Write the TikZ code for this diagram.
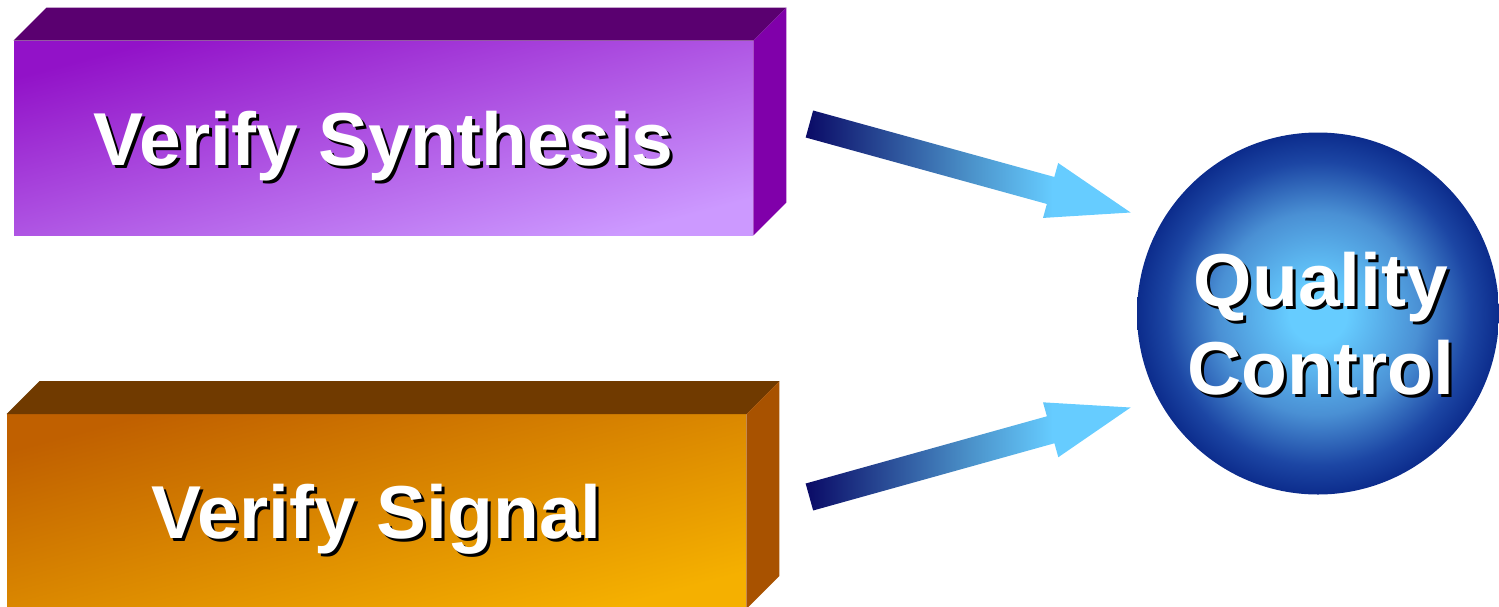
\documentclass[tikz,border=0pt]{standalone}
\usepackage{fontspec}
\setmainfont{Liberation Sans}
\usetikzlibrary{positioning, calc}
\usepackage{xcolor}

\definecolor{synthdark}{HTML}{9212C8}
\definecolor{synthlight}{HTML}{CC99FF}
\definecolor{synthtop}{HTML}{5A0070}
\definecolor{synthside}{HTML}{8000AA}
\definecolor{sigdark}{HTML}{C06000}
\definecolor{siglight}{HTML}{F5B000}
\definecolor{sigtop}{HTML}{703A00}
\definecolor{sigside}{HTML}{A85200}
\definecolor{qclight}{HTML}{66CCFF}
\definecolor{qcmid}{HTML}{4A90D4}
\definecolor{qcdeep}{HTML}{1C46A4}
\definecolor{qcdark}{HTML}{0C2C8C}
\definecolor{arrnavy}{HTML}{0A0A66}
\definecolor{arrmid}{HTML}{4A90C8}

\pgfdeclareradialshading{qcball}{\pgfpoint{0bp}{0bp}}{color(0bp)=(qclight); color(4bp)=(qclight); color(14bp)=(qcmid); color(21bp)=(qcdeep); color(25bp)=(qcdark); color(50bp)=(qcdark)}
\pgfdeclarehorizontalshading{arrowfade}{100bp}{color(0bp)=(arrnavy); color(25bp)=(arrnavy); color(50bp)=(arrmid); color(63bp)=(qclight); color(100bp)=(qclight)}

% white text with a black copy shifted down-right
\newcommand\shtext[1]{\makebox[0pt][l]{\kern1.5pt\raisebox{-1.5pt}{\color{black}#1}}{\color{white}#1}}

\tikzset{
  boxtext/.style={font=\fontsize{37.5}{44}\selectfont\bfseries},
  frontface/.style={boxtext, minimum width=369.5pt, minimum height=97pt, inner sep=0pt, text depth=0pt},
}

\begin{document}
\begin{tikzpicture}[x=0.5pt, y=-0.5pt]
  \useasboundingbox (0,0) rectangle (1499,606);
  % front faces of the two blocks
  \node[frontface, top color=synthdark, bottom color=synthlight, shading angle=15] (synth) at (383.5,138) {\shtext{Verify Synthesis}};
  \node[frontface, top color=sigdark, bottom color=siglight, shading angle=15] (sig) at (376.5,511.5) {\shtext{Verify Signal}};
  \foreach \face/\ftop/\fside in {synth/synthtop/synthside, sig/sigtop/sigside} {
    \fill[\ftop] (\face.north west) -- ++(33,-33) -- ($(\face.north east)+(33,-33)$) -- (\face.north east) -- cycle;
    \fill[\fside] (\face.north east) -- ++(33,-33) -- ($(\face.south east)+(33,-33)$) -- (\face.south east) -- cycle;
  }

  \node[circle, minimum size=181pt, inner sep=0pt, shading=qcball] (qc) at (1318,313.5) {};
  \node[boxtext, align=center, inner sep=0pt] (qclabel) at ($(qc.center)+(3,12)$) {\shtext{Quality}\\\shtext{Control}};

  % fat arrows, fading from navy to sky blue
  \coordinate (synthtail) at ($(synth.east)+(56,-14)$);
  \coordinate (sigtail) at ($(sig.east)+(63,-14.5)$);
  \coordinate (qctop) at ($(qc.west)+(-6,-101)$);
  \coordinate (qcbot) at ($(qc.west)+(-6,94)$);
  \foreach \src/\dst in {synthtail/qctop, sigtail/qcbot} {
    \coordinate (hb) at ($(\dst)!41.5pt!(\src)$);
    \shade[shading=arrowfade] ($(\src)!7pt!90:(\dst)$) -- ($(hb)!7pt!90:(\dst)$)
      -- ($(hb)!14.25pt!90:(\dst)$) -- (\dst) -- ($(hb)!14.25pt!-90:(\dst)$)
      -- ($(hb)!7pt!-90:(\dst)$) -- ($(\src)!7pt!-90:(\dst)$) -- cycle;
  }
\end{tikzpicture}
\end{document}
